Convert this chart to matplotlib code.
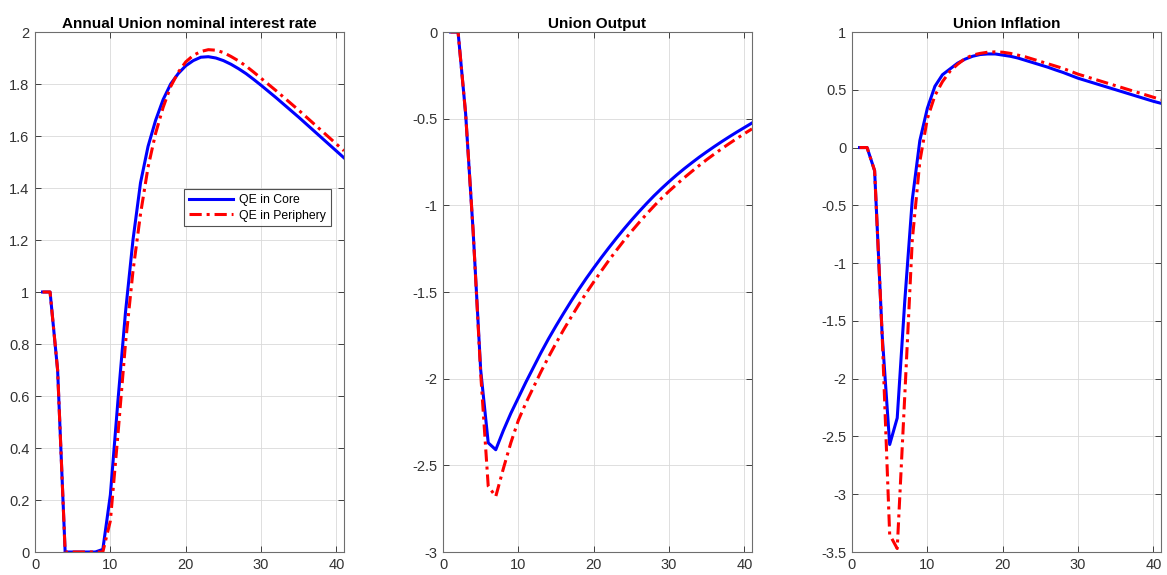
import matplotlib
matplotlib.use("Agg")
import matplotlib.pyplot as plt
import numpy as np

periods = list(range(1, 42))

rate_core = [1.0, 1.0, 0.70, 0.0, 0.0, 0.0, 0.0, 0.0, 0.01, 0.22,
             0.58, 0.92, 1.20, 1.42, 1.56, 1.66, 1.74, 1.80, 1.84, 1.87,
             1.89, 1.903, 1.905, 1.90, 1.89, 1.876, 1.859, 1.84, 1.818, 1.795,
             1.771, 1.747, 1.722, 1.697, 1.672, 1.646, 1.62, 1.594, 1.568, 1.542, 1.516]
rate_periph = [1.0, 1.0, 0.70, 0.0, 0.0, 0.0, 0.0, 0.0, 0.0, 0.12,
               0.45, 0.80, 1.08, 1.30, 1.48, 1.61, 1.71, 1.79, 1.845, 1.885,
               1.91, 1.925, 1.932, 1.93, 1.921, 1.906, 1.889, 1.869, 1.846, 1.822,
               1.798, 1.774, 1.749, 1.724, 1.699, 1.673, 1.647, 1.621, 1.595, 1.569, 1.543]

output_core = [0.0, 0.0, -0.47, -1.15, -1.95, -2.37, -2.41, -2.30, -2.20, -2.11,
               -2.02, -1.935, -1.85, -1.77, -1.695, -1.623, -1.553, -1.486, -1.422, -1.361,
               -1.302, -1.245, -1.19, -1.137, -1.086, -1.037, -0.99, -0.945, -0.903, -0.863,
               -0.825, -0.789, -0.755, -0.722, -0.691, -0.661, -0.632, -0.604, -0.577, -0.551, -0.525]
output_periph = [0.0, 0.0, -0.47, -1.15, -1.97, -2.62, -2.68, -2.52, -2.37, -2.24,
                 -2.14, -2.05, -1.96, -1.875, -1.795, -1.718, -1.645, -1.574, -1.506, -1.442,
                 -1.379, -1.318, -1.26, -1.204, -1.151, -1.1, -1.051, -1.004, -0.959, -0.918,
                 -0.879, -0.841, -0.805, -0.77, -0.736, -0.704, -0.673, -0.643, -0.614, -0.586, -0.559]

infl_core = [0.0, 0.0, -0.20, -1.62, -2.57, -2.34, -1.33, -0.45, 0.06, 0.34,
             0.53, 0.63, 0.68, 0.73, 0.765, 0.79, 0.805, 0.81, 0.81, 0.80,
             0.79, 0.775, 0.755, 0.735, 0.715, 0.695, 0.672, 0.65, 0.625, 0.60,
             0.58, 0.56, 0.54, 0.52, 0.50, 0.48, 0.46, 0.44, 0.42, 0.40, 0.383]
infl_periph = [0.0, 0.0, -0.20, -1.62, -3.35, -3.47, -2.15, -0.80, -0.12, 0.25,
               0.45, 0.57, 0.66, 0.72, 0.77, 0.80, 0.815, 0.825, 0.828, 0.825,
               0.815, 0.80, 0.785, 0.765, 0.745, 0.725, 0.705, 0.685, 0.66, 0.635,
               0.615, 0.595, 0.575, 0.555, 0.535, 0.515, 0.495, 0.475, 0.455, 0.435, 0.415]

titles = ["Annual Union nominal interest rate", "Union Output", "Union Inflation"]
legend_labels = ["QE in Core", "QE in Periphery"]
ylims = [(0, 2), (-3, 0), (-3.5, 1)]
ysteps = [0.2, 0.5, 0.5]

plt.rcParams['font.family'] = ['Liberation Sans', 'DejaVu Sans']

fig = plt.figure(figsize=(11.67, 5.75), dpi=100)
W, H = 1167, 575
lefts = [35, 443, 852]
axw = 309
top, bottom = 32, 552

series = [(rate_core, rate_periph), (output_core, output_periph), (infl_core, infl_periph)]
axc = '#262626'
for i in range(3):
    ax = fig.add_axes([lefts[i] / W, (H - bottom) / H, axw / W, (bottom - top) / H])
    core, per = series[i]
    ax.plot(periods, core, color='#0000ff', lw=2.2, label=legend_labels[0])
    ax.plot(periods, per, color='#ff0000', lw=2.2, linestyle=(0, (4, 1.6, 1, 1.6)), label=legend_labels[1])
    ax.set_xlim(0, 41)
    ax.set_ylim(*ylims[i])
    ax.set_xticks([0, 10, 20, 30, 40])
    lo, hi = ylims[i]
    ax.set_yticks(np.round(np.arange(lo, hi + 1e-9, ysteps[i]), 2))
    ax.yaxis.set_major_formatter(matplotlib.ticker.FuncFormatter(lambda v, p: ('%g' % v)))
    ax.grid(True, color='#d9d9d9', lw=0.6)
    ax.set_axisbelow(True)
    ax.tick_params(direction='in', top=True, right=True, length=4, width=0.6,
                   colors=axc, labelsize=10.5, labelcolor='#333333', pad=4)
    for s in ax.spines.values():
        s.set_color('#6e6e6e')
        s.set_linewidth(0.8)
    ax.set_title(titles[i], fontsize=11, fontweight='bold', color='black', pad=3)
    if i == 0:
        leg = ax.legend(loc='center', bbox_to_anchor=(0.72, 0.662), fontsize=8.8,
                        handlelength=3.6, frameon=True, fancybox=False, borderpad=0.4,
                        labelspacing=0.3, handletextpad=0.5, borderaxespad=0)
        leg.get_frame().set_edgecolor('#262626')
        leg.get_frame().set_linewidth(0.8)

fig.savefig('out.png', dpi=100)
